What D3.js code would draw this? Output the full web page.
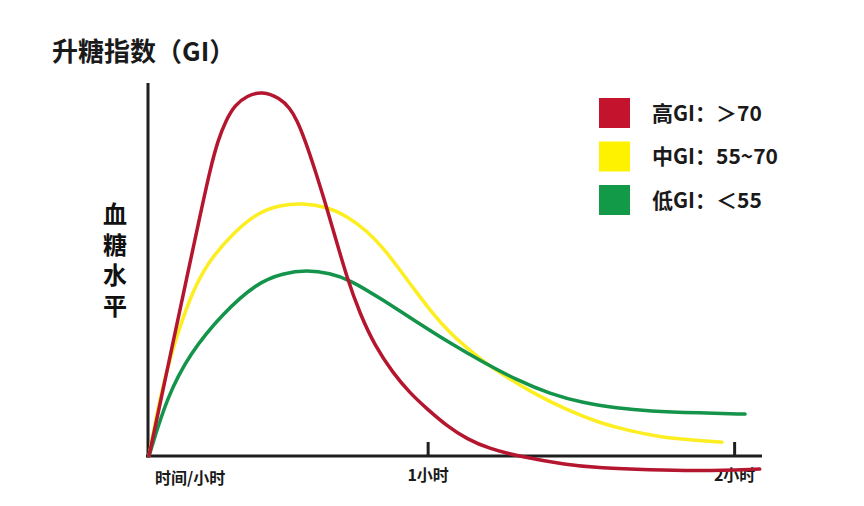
<!DOCTYPE html>
<html>
<head>
<meta charset="utf-8">
<script src="https://cdn.jsdelivr.net/npm/d3@7"></script>
<style>
  body { margin: 0; background: #fff; }
  text { font-family: "Noto Sans CJK SC", "Noto Sans", sans-serif; }
</style>
</head>
<body>
<div id="chart"></div>
<script>
// time in minutes, blood sugar level in arbitrary units (0-100)
var highGI = [
  [0, 0], [2.37, 13.9], [4.95, 29.1], [8.18, 47.9], [10.98, 64.2], [13.14, 76.5],
  [14.86, 84.5], [16.58, 89.8], [18.52, 93.9], [21.1, 96.3], [24.33, 97.6],
  [28.19, 95.7], [30.36, 93.0], [31.87, 89.8], [33.59, 84.5], [35.75, 76.5],
  [37.9, 67.9], [40.05, 58.8], [42.64, 47.6], [45.43, 38.0], [48.66, 29.4],
  [52.54, 22.2], [56.2, 16.8], [59.86, 12.6], [64.17, 8.0], [68.48, 4.5],
  [73.43, 1.9], [79.24, 0], [90.01, -2.4], [97.11, -3.2], [107.9, -3.7],
  [118.6, -4.0], [131.5, -3.5]
];
var midGI = [
  [0, 0], [2.37, 15.8], [5.17, 29.1], [8.83, 42.5], [12.49, 51.6], [18.09, 59.6],
  [23.26, 65.0], [28.19, 67.1], [33.14, 67.6], [38.33, 66.6], [42.64, 64.2],
  [46.94, 60.2], [50.82, 55.1], [54.05, 49.7], [57.71, 43.6], [61.15, 38.0],
  [64.81, 32.9], [68.48, 28.9], [71.92, 25.4], [75.58, 22.2], [82.69, 16.8],
  [90.01, 12.3], [97.11, 8.8], [103.57, 6.7], [110.03, 5.1], [116.49, 4.3],
  [123.38, 3.7]
];
var lowGI = [
  [0, 0], [3.88, 15.8], [8.83, 27.5], [15.93, 38.2], [23.26, 46.3], [28.85, 48.9],
  [34.02, 49.7], [38.98, 48.9], [43.28, 47.1], [50.39, 41.7], [57.71, 35.8],
  [64.81, 30.2], [71.92, 25.1], [79.24, 20.3], [86.35, 16.6], [93.45, 14.2],
  [100.77, 12.8], [107.54, 12.0], [118.65, 11.5], [128.34, 11.2]
];
var legendLabels = ["高GI：＞70", "中GI：55~70", "低GI：＜55"];
var tickValues = [60, 126];
var tickLabels = ["1小时", "2小时"];

var colors = ["#b5162f", "#fcee21", "#13944a"];
var legendColors = ["#c4132c", "#fff200", "#129a48"];

var svg = d3.select("#chart")
  .append("svg")
  .attr("width", 864)
  .attr("height", 506);

var x = d3.scaleLinear().domain([0, 132]).range([149, 762]);
var y = d3.scaleLinear().domain([0, 100]).range([456, 82]);

// title
svg.append("text")
  .attr("x", 52)
  .attr("y", 61)
  .attr("font-size", 26)
  .attr("font-weight", "bold")
  .attr("fill", "#1a1a1a")
  .text("升糖指数（GI）");

// vertical y label, one text element
svg.append("text")
  .attr("x", 115)
  .attr("y", 202)
  .attr("font-size", 24)
  .attr("font-weight", "bold")
  .attr("fill", "#111")
  .style("writing-mode", "vertical-rl")
  .style("letter-spacing", "6.5px")
  .text("血糖水平");

// axes
var xAxis = d3.axisBottom(x)
  .tickValues(tickValues)
  .tickFormat((d, i) => tickLabels[i])
  .tickSizeInner(-14)
  .tickSizeOuter(0)
  .tickPadding(14);

var gx = svg.append("g")
  .attr("transform", "translate(0," + y(0) + ")")
  .call(xAxis);
gx.select(".domain").attr("stroke", "#1f1f1f").attr("stroke-width", 3)
  .attr("d", "M146,0H762");
gx.selectAll(".tick line").attr("stroke", "#1f1f1f").attr("stroke-width", 3);
gx.selectAll(".tick text")
  .attr("font-size", 16)
  .attr("font-weight", "bold")
  .attr("fill", "#1a1a1a")
  .attr("font-family", "Noto Sans CJK SC");

svg.append("text")
  .attr("x", 155)
  .attr("y", 484)
  .attr("font-size", 16)
  .attr("font-weight", "bold")
  .attr("fill", "#1a1a1a")
  .text("时间/小时");

var gy = svg.append("g")
  .attr("transform", "translate(148,0)")
  .call(d3.axisLeft(y).tickValues([]).tickSizeOuter(0));
gy.select(".domain").attr("stroke", "#1f1f1f").attr("stroke-width", 3)
  .attr("d", "M0," + (y(0) + 1.5) + "V83");

// curves
var line = d3.line()
  .x(d => x(d[0]))
  .y(d => y(d[1]))
  .curve(d3.curveBasis);

var series = [midGI, lowGI, highGI];
var seriesColors = [colors[1], colors[2], colors[0]];
svg.selectAll(".curve")
  .data(series)
  .enter()
  .append("path")
  .attr("class", "curve")
  .attr("d", line)
  .attr("fill", "none")
  .attr("stroke", (d, i) => seriesColors[i])
  .attr("stroke-width", 3.5)
  .attr("stroke-linecap", "round");

// legend
var legend = svg.selectAll(".legend")
  .data(legendLabels)
  .enter()
  .append("g")
  .attr("class", "legend")
  .attr("transform", (d, i) => "translate(599," + (98 + i * 43.5) + ")");

legend.append("rect")
  .attr("width", 31)
  .attr("height", 30)
  .attr("fill", (d, i) => legendColors[i]);

legend.append("text")
  .attr("x", 53)
  .attr("y", 15)
  .attr("dy", "0.36em")
  .attr("font-size", 21)
  .attr("font-weight", "bold")
  .attr("fill", "#1a1a1a")
  .text(d => d);
</script>
</body>
</html>
